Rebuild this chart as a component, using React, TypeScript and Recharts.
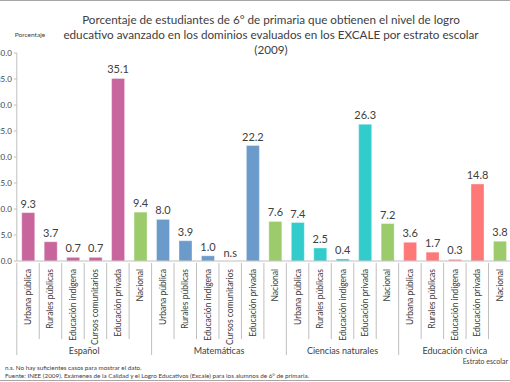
import React from 'react';
import { BarChart, Bar, XAxis, YAxis, Cell, LabelList } from 'recharts';

const groups = ['Español', 'Matemáticas', 'Ciencias naturales', 'Educación cívica'];
const groupColors = ['#C8659D', '#6B9BCB', '#33CCCC', '#FF7878'];
const nationalColor = '#9BCB6B';

const espanolCats = ['Urbana pública', 'Rurales públicas', 'Educación indígena', 'Cursos comunitarios', 'Educación privada', 'Nacional'];
const matematicasCats = ['Urbana pública', 'Rurales públicas', 'Educación indígena', 'Cursos comunitarios', 'Educación privada', 'Nacional'];
const cienciasCats = ['Urbana pública', 'Rurales públicas', 'Educación indígena', 'Educación privada', 'Nacional'];
const civicaCats = ['Urbana pública', 'Rurales públicas', 'Educación indígena', 'Educación privada', 'Nacional'];

const espanolValues = [9.3, 3.7, 0.7, 0.7, 35.1, 9.4];
const matematicasValues = [8.0, 3.9, 1.0, null, 22.2, 7.6];
const cienciasValues = [7.4, 2.5, 0.4, 26.3, 7.2];
const civicaValues = [3.6, 1.7, 0.3, 14.8, 3.8];

const yTicks = [0, 5, 10, 15, 20, 25, 30, 35, 40];

const catLists = [espanolCats, matematicasCats, cienciasCats, civicaCats];
const valLists = [espanolValues, matematicasValues, cienciasValues, civicaValues];

const data: any[] = [];
catLists.forEach((cats, g) => {
  cats.forEach((c, i) => {
    data.push({
      key: `${g}-${i}`,
      cat: c,
      group: g,
      first: i === 0,
      groupSize: cats.length,
      value: valLists[g][i],
      color: c === 'Nacional' ? nationalColor : groupColors[g],
    });
  });
});

const FONT = 'Lato, "Open Sans", sans-serif';
const CHART_W = 531;
const Y_AXIS_W = 36.8;
const STEP = (CHART_W - Y_AXIS_W) / data.length;
const GRID = '#BFBFBF';

// category label + separators + group name, all hung off the x axis ticks
const CatTick = (props: any) => {
  const { x, y, index } = props;
  const d = data[index];
  if (!d) return null;
  const left = x - STEP / 2;
  return (
    <g>
      <line x1={left} y1={y} x2={left} y2={y + (d.first ? 92 : 76)} stroke={GRID} />
      {index === data.length - 1 && (
        <line x1={x + STEP / 2} y1={y} x2={x + STEP / 2} y2={y + 92} stroke={GRID} />
      )}
      <text
        x={x + 3}
        y={y + 6}
        transform={`rotate(-90 ${x + 3} ${y + 6})`}
        textAnchor="end"
        fontSize={8.5}
        fill="#404040"
        fontFamily={FONT}
      >
        {d.cat}
      </text>
      {d.first && (
        <text
          x={left + (d.groupSize * STEP) / 2}
          y={y + 91}
          textAnchor="middle"
          fontSize={9}
          fill="#404040"
          fontFamily={FONT}
        >
          {groups[d.group]}
        </text>
      )}
      {d.value == null && (
        <text x={x} y={y - 6} textAnchor="middle" fontSize={11} fill="#404040" fontFamily={FONT}>
          n.s
        </text>
      )}
    </g>
  );
};

export default function App() {
  return (
    <div style={{ position: 'absolute', left: 0, top: 0, width: 510, height: 382, overflow: 'hidden', background: '#fff' }}>
      <div style={{ position: 'absolute', left: -20, top: 0 }}>
        <BarChart width={CHART_W} height={382} data={data} margin={{ top: 53, right: 0, bottom: 0, left: 0 }} barCategoryGap="22%">
          <XAxis
            dataKey="key"
            height={121}
            interval={0}
            tickLine={false}
            tickSize={0}
            axisLine={{ stroke: GRID }}
            tick={<CatTick />}
          />
          <YAxis
            width={Y_AXIS_W}
            domain={[0, 40]}
            ticks={yTicks}
            tickFormatter={(v: number) => v.toFixed(1)}
            axisLine={{ stroke: GRID }}
            tickLine={{ stroke: GRID }}
            tickSize={3}
            tick={{ fontSize: 8, fill: '#404040', fontFamily: FONT }}
          />
          <Bar dataKey="value" isAnimationActive={false}>
            {data.map((d) => (
              <Cell key={d.key} fill={d.color} stroke="#ffffff" strokeOpacity={0.35} />
            ))}
            <LabelList
              dataKey="value"
              position="top"
              offset={5}
              fontSize={11}
              fill="#404040"
              fontFamily={FONT}
              formatter={(v: any) => (v == null ? '' : Number(v).toFixed(1))}
            />
          </Bar>
        </BarChart>
      </div>
      <svg width={510} height={382} style={{ position: 'absolute', left: 0, top: 0, pointerEvents: 'none' }}>
        <text textAnchor="middle" fontFamily={FONT} fontSize={11.7} fill="#404040">
          <tspan x={271} y={24}>Porcentaje de estudiantes de 6° de primaria que obtienen el nivel de logro</tspan>
          <tspan x={271} y={39}>educativo avanzado en los dominios evaluados en los EXCALE por estrato escolar</tspan>
          <tspan x={271} y={54}>(2009)</tspan>
        </text>
        <text x={30} y={37} textAnchor="middle" fontFamily={FONT} fontSize={6.5} fill="#404040">Porcentaje</text>
        <text x={508} y={364} textAnchor="end" fontFamily={FONT} fontSize={7} fill="#404040">Estrato escolar</text>
        <text x={5} y={370} fontFamily={FONT} fontSize={6.3} fill="#404040">n.s. No hay suficientes casos para mostrar el dato.</text>
        <text x={5} y={378} fontFamily={FONT} fontSize={6.3} fill="#404040">Fuente: INEE (2009). Exámenes de la Calidad y el Logro Educativos (Excale) para los alumnos de 6° de primaria.</text>
      </svg>
      <div style={{ position: 'absolute', left: 0, top: 0, width: 510, height: 1, background: '#A6A6A6' }} />
      <div style={{ position: 'absolute', left: 0, top: 380, width: 510, height: 1, background: '#A6A6A6' }} />
    </div>
  );
}
